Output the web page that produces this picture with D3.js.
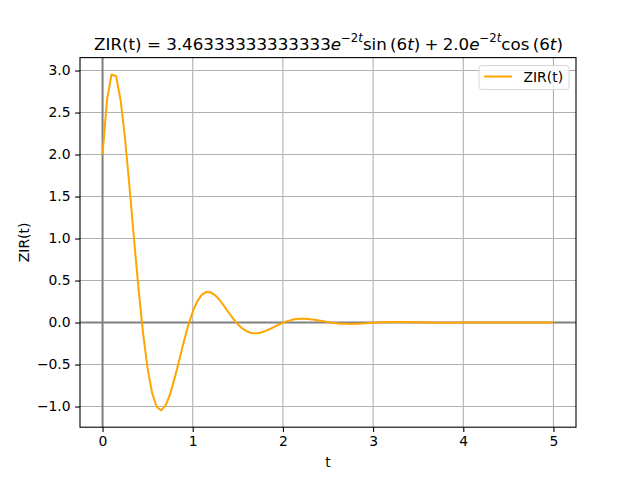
<!DOCTYPE html>
<html>
<head>
<meta charset="utf-8">
<script src="https://cdn.jsdelivr.net/npm/d3@7"></script>
<style>
  body { margin: 0; background: #fff; }
  svg text { font-family: 'DejaVu Sans', sans-serif; fill: #000; }
</style>
</head>
<body>
<div class="chart"></div>
<script>
// sample times
const tValues = [
  0.00, 0.05, 0.10, 0.15, 0.20, 0.25, 0.30, 0.35, 0.40, 0.45,
  0.50, 0.55, 0.60, 0.65, 0.70, 0.75, 0.80, 0.85, 0.90, 0.95,
  1.00, 1.05, 1.10, 1.15, 1.20, 1.25, 1.30, 1.35, 1.40, 1.45,
  1.50, 1.55, 1.60, 1.65, 1.70, 1.75, 1.80, 1.85, 1.90, 1.95,
  2.00, 2.05, 2.10, 2.15, 2.20, 2.25, 2.30, 2.35, 2.40, 2.45,
  2.50, 2.55, 2.60, 2.65, 2.70, 2.75, 2.80, 2.85, 2.90, 2.95,
  3.00, 3.05, 3.10, 3.15, 3.20, 3.25, 3.30, 3.35, 3.40, 3.45,
  3.50, 3.55, 3.60, 3.65, 3.70, 3.75, 3.80, 3.85, 3.90, 3.95,
  4.00, 4.05, 4.10, 4.15, 4.20, 4.25, 4.30, 4.35, 4.40, 4.45,
  4.50, 4.55, 4.60, 4.65, 4.70, 4.75, 4.80, 4.85, 4.90, 4.95,
  5.00
];

// ZIR(t)
const zirValues = [
  2.000, 2.655, 2.954, 2.932, 2.650, 2.182, 1.603, 0.982, 0.387, -0.133,
  -0.549, -0.841, -1.002, -1.046, -0.986, -0.849, -0.659, -0.448, -0.233, -0.036,
  0.129, 0.252, 0.330, 0.364, 0.360, 0.324, 0.265, 0.193, 0.117, 0.044,
  -0.020, -0.070, -0.105, -0.124, -0.129, -0.121, -0.103, -0.080, -0.054, -0.027,
  -0.003, 0.017, 0.032, 0.041, 0.045, 0.044, 0.039, 0.032, 0.023, 0.014,
  0.005, -0.003, -0.009, -0.013, -0.015, -0.016, -0.015, -0.013, -0.010, -0.006,
  -0.003, 0.000, 0.002, 0.004, 0.005, 0.006, 0.005, 0.005, 0.004, 0.003,
  0.002, 0.001, 0.000, -0.001, -0.002, -0.002, -0.002, -0.002, -0.002, -0.001,
  -0.001, 0.000, 0.000, 0.000, 0.001, 0.001, 0.001, 0.001, 0.001, 0.001,
  0.000, 0.000, 0.000, 0.000, 0.000, 0.000, 0.000, 0.000, 0.000, 0.000,
  0.000
];

const xTicks = [0, 1, 2, 3, 4, 5];
const yTicks = [-1.0, -0.5, 0.0, 0.5, 1.0, 1.5, 2.0, 2.5, 3.0];
const seriesName = 'ZIR(t)';

const W = 640;
const H = 480;
const margin = {top: 57.6, right: 64, bottom: 52.8, left: 80};
const width = W - margin.left - margin.right;
const height = H - margin.top - margin.bottom;

const svg = d3
  .select('.chart')
  .append('svg')
  .attr('width', W)
  .attr('height', H);

// matplotlib style 5% padding
const xExt = d3.extent(tValues);
const yExt = d3.extent(zirValues);
const xPad = (xExt[1] - xExt[0]) * 0.05;
const yPad = (yExt[1] - yExt[0]) * 0.05;

const x = d3
  .scaleLinear()
  .domain([xExt[0] - xPad, xExt[1] + xPad])
  .range([0, width]);
const y = d3
  .scaleLinear()
  .domain([yExt[0] - yPad, yExt[1] + yPad])
  .range([height, 0]);

const g = svg
  .append('g')
  .attr('transform', `translate(${margin.left},${margin.top})`);

// grid
g.append('g')
  .selectAll('line')
  .data(xTicks)
  .enter()
  .append('line')
  .attr('x1', d => x(d))
  .attr('x2', d => x(d))
  .attr('y1', 0)
  .attr('y2', height)
  .attr('stroke', '#b0b0b0')
  .attr('stroke-width', 1.1);

g.append('g')
  .selectAll('line')
  .data(yTicks)
  .enter()
  .append('line')
  .attr('x1', 0)
  .attr('x2', width)
  .attr('y1', d => y(d))
  .attr('y2', d => y(d))
  .attr('stroke', '#b0b0b0')
  .attr('stroke-width', 1.1);

// zero lines
g.append('line')
  .attr('x1', 0)
  .attr('x2', width)
  .attr('y1', y(0))
  .attr('y2', y(0))
  .attr('stroke', '#808080')
  .attr('stroke-width', 2);
g.append('line')
  .attr('x1', x(0))
  .attr('x2', x(0))
  .attr('y1', 0)
  .attr('y2', height)
  .attr('stroke', '#808080')
  .attr('stroke-width', 2);

// curve
const line = d3
  .line()
  .x((d, i) => x(tValues[i]))
  .y(d => y(d));

g.append('path')
  .datum(zirValues)
  .attr('d', line)
  .attr('fill', 'none')
  .attr('stroke', '#ffa500')
  .attr('stroke-width', 2)
  .attr('stroke-linejoin', 'round');

// axes
const fmtY = d3.format('.1f');
const xAxis = g
  .append('g')
  .attr('transform', `translate(0,${height})`)
  .call(
    d3
      .axisBottom(x)
      .tickValues(xTicks)
      .tickFormat(d3.format('d'))
      .tickSize(4.9)
      .tickPadding(4.5),
  );
const yAxis = g.append('g').call(
  d3
    .axisLeft(y)
    .tickValues(yTicks)
    .tickFormat(fmtY)
    .tickSize(4.9)
    .tickPadding(4.5),
);
[xAxis, yAxis].forEach(a => {
  a.select('.domain').remove();
  a.selectAll('.tick line').attr('stroke', '#000').attr('stroke-width', 1.1);
  a.selectAll('.tick text')
    .style('font-family', "'DejaVu Sans', sans-serif")
    .style('font-size', '13.9px')
    .attr('fill', '#000');
});

// frame
g.append('rect')
  .attr('width', width)
  .attr('height', height)
  .attr('fill', 'none')
  .attr('stroke', '#000')
  .attr('stroke-width', 1.1);

// axis labels
svg
  .append('text')
  .attr('x', margin.left + width / 2)
  .attr('y', 467)
  .attr('text-anchor', 'middle')
  .style('font-size', '13.9px')
  .text('t');

svg
  .append('text')
  .attr('transform', `translate(29,${margin.top + height / 2}) rotate(-90)`)
  .attr('text-anchor', 'middle')
  .style('font-size', '13.9px')
  .text(seriesName);

// title with math parts
const title = svg
  .append('text')
  .attr('x', margin.left + width / 2 + 0.5)
  .attr('y', 49.5)
  .attr('text-anchor', 'middle')
  .style('font-size', '16.7px')
  .attr('xml:space', 'preserve');

const parts = [
  {s: 'ZIR(t) = 3.46333333333333'},
  {s: 'e', it: true},
  {s: '\u22122', sup: true},
  {s: 't', sup: true, it: true},
  {s: 'sin\u2009(6'},
  {s: 't', it: true},
  {s: ')\u2005+\u20052.0'},
  {s: 'e', it: true},
  {s: '\u22122', sup: true},
  {s: 't', sup: true, it: true},
  {s: 'cos\u2009(6'},
  {s: 't', it: true},
  {s: ')'},
];
let raised = false;
parts.forEach(p => {
  const ts = title.append('tspan').text(p.s);
  if (p.it) ts.style('font-style', 'oblique');
  if (p.sup) {
    ts.style('font-size', '11.7px');
    if (!raised) {
      ts.attr('dy', -7.5);
      raised = true;
    }
  } else if (raised) {
    ts.attr('dy', 7.5);
    raised = false;
  }
});

// legend
const lg = svg.append('g').attr('transform', 'translate(479,65.5)');
lg.append('rect')
  .attr('width', 90)
  .attr('height', 24)
  .attr('rx', 3)
  .attr('fill', '#fff')
  .attr('fill-opacity', 0.8)
  .attr('stroke', '#d6d6d6')
  .attr('stroke-width', 1);
lg.append('line')
  .attr('x1', 5)
  .attr('x2', 33)
  .attr('y1', 11)
  .attr('y2', 11)
  .attr('stroke', '#ffa500')
  .attr('stroke-width', 2);
lg.append('text')
  .attr('x', 44.5)
  .attr('y', 16)
  .style('font-size', '13.9px')
  .text(seriesName);
</script>
</body>
</html>
